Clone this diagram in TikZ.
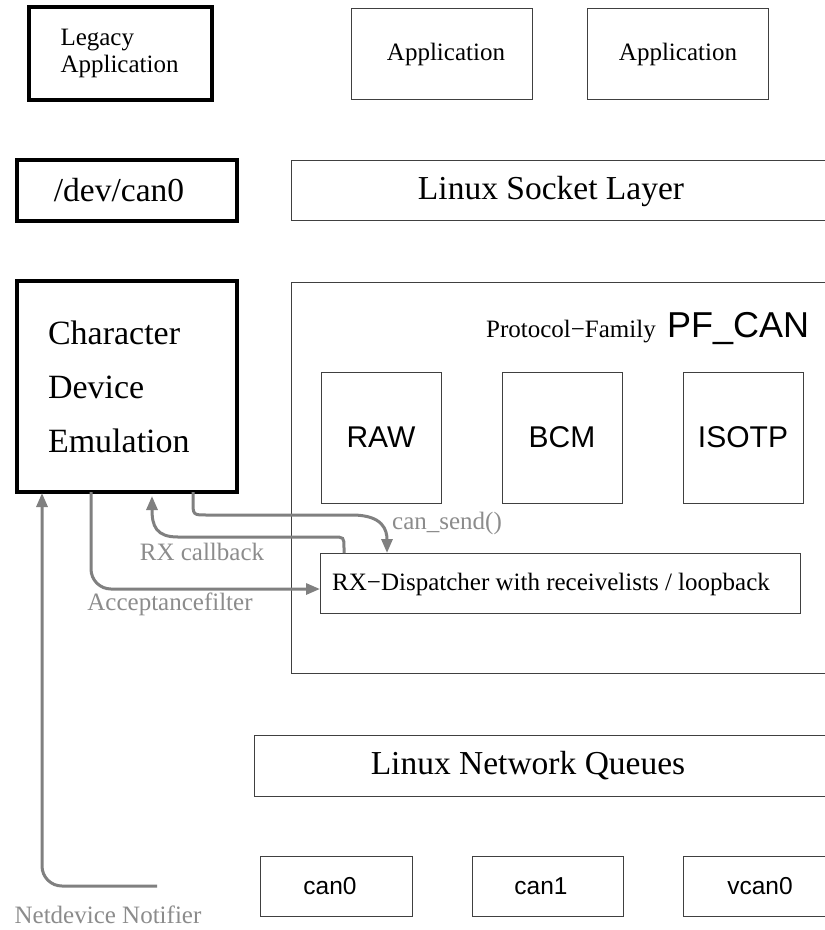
\documentclass[tikz,border=0pt]{standalone}
\usepackage{fontspec}
\setmainfont{Liberation Serif}
\newfontfamily\helv{Liberation Sans}
\usetikzlibrary{arrows.meta,calc}

\begin{document}
\begin{tikzpicture}[x=1pt,y=-1pt,
  thickbox/.style={draw=black, line width=3.2pt, inner sep=0pt, outer sep=0pt},
  thinbox/.style={draw=black!75, line width=1pt, inner sep=0pt, outer sep=0pt},
  flow/.style={draw=black!50, line width=3pt, -{Triangle[length=14pt,width=11pt]}},
  flowlabel/.style={text=black!45, font=\fontsize{25}{27}\selectfont, inner sep=0pt},
  serifmid/.style={font=\fontsize{25}{27}\selectfont},
  seriflarge/.style={font=\fontsize{33.5}{36}\selectfont},
  sansmid/.style={font=\helv\fontsize{24.5}{27}\selectfont},
  sanslarge/.style={font=\helv\fontsize{30}{32}\selectfont},
]
\clip (0,0) rectangle (825,930);
\fill[white] (0,0) rectangle (825,930);

% top row: applications
\node[thickbox, minimum width=183, minimum height=93,
      align=left, text width=120, font=\fontsize{25}{27}\selectfont] (legacy) at (120.5,53.5)
      {Legacy\\Application};
\node[thinbox, minimum width=181, minimum height=91] (app1) at (441.5,53.5) {};
\node[serifmid, inner sep=0pt] (app1txt) at (446,54) {Application};
\node[thinbox, minimum width=181, minimum height=91] (app2) at (677.5,53.5) {};
\node[serifmid, inner sep=0pt] (app2txt) at (678,54) {Application};

% device node and socket layer
\node[thickbox, minimum width=220, minimum height=61] (dev) at (127,190.5) {};
\node[seriflarge, inner sep=0pt] (devtxt) at (119,190) {/dev/can0};
\node[thinbox, minimum width=559, minimum height=60] (sock) at (570.5,190) {};
\node[seriflarge, inner sep=0pt] (socktxt) at (551,191) {Linux Socket Layer};

% character device emulation
\node[thickbox, minimum width=220, minimum height=211,
      align=left, text width=158, font=\fontsize{34}{54}\selectfont] (chardev) at (127,386.5)
      {Character\\Device\\Emulation};

% protocol family PF_CAN
\node[thinbox, minimum width=559, minimum height=391] (pfcan) at (570.5,477.5) {};
\node[serifmid, inner sep=0pt, anchor=base east] (pftxt) at (656,337) {Protocol−Family};
\node[font=\helv\fontsize{36}{38}\selectfont, inner sep=0pt, anchor=base west] (pfname) at (667,337) {PF\_CAN};

\node[thinbox, minimum width=120, minimum height=131, sanslarge] (raw) at (381,437.5) {RAW};
\node[thinbox, minimum width=120, minimum height=131, sanslarge] (bcm) at (562,437.5) {BCM};
\node[thinbox, minimum width=120, minimum height=131, sanslarge] (isotp) at (743,437.5) {ISOTP};

\node[thinbox, minimum width=480, minimum height=60] (rxd) at (560,583) {};
\node[serifmid, inner sep=0pt, anchor=base west] (rxdtxt) at (332,590) {RX−Dispatcher with receivelists / loopback};

% network queues and devices
\node[thinbox, minimum width=596, minimum height=61] (netq) at (552,765.5) {};
\node[seriflarge, inner sep=0pt] (netqtxt) at (528,766) {Linux Network Queues};

\node[thinbox, minimum width=152, minimum height=60] (can0) at (336,886) {};
\node[sansmid, inner sep=0pt] (can0txt) at (330,886) {can0};
\node[thinbox, minimum width=151, minimum height=60] (can1) at (547.5,886) {};
\node[sansmid, inner sep=0pt] (can1txt) at (541,886) {can1};
\node[thinbox, minimum width=167, minimum height=60] (vcan0) at (766.5,886) {};
\node[sansmid, inner sep=0pt] (vcan0txt) at (760,886) {vcan0};

% connectors
\coordinate (ndstart) at (157,886);
\coordinate (ndend) at ($(chardev.south west)+(25,1)$);
\draw[flow, rounded corners=20pt] (ndstart) -| (ndend);

\coordinate (afstart) at ($(chardev.south west)+(74,0)$);
\coordinate (afend) at ($(rxd.west)+(0,6)$);
\draw[flow, rounded corners=20pt] (afstart) |- (afend);

\coordinate (rxstart) at ($(rxd.north west)+(24,0)$);
\coordinate (rxend) at ($(chardev.south west)+(135,4)$);
\draw[flow] (rxstart) -- (344,548) .. controls (344,537) .. (333,537) -- (178,537)
  .. controls (156,537) and (152,526) .. (rxend);

\coordinate (csstart) at ($(chardev.south west)+(176,0)$);
\coordinate (csend) at ($(rxd.north west)+(67,0)$);
\draw[flow] (csstart) -- (193,501) .. controls (193,515) .. (207,515) -- (352,515)
  .. controls (383,515) and (387,530) .. (csend);

% connector labels
\node[flowlabel] (ndlbl) at (108,915) {Netdevice Notifier};
\node[flowlabel] (aflbl) at (170,604) {Acceptancefilter};
\node[flowlabel] (rxlbl) at (202,552) {RX callback};
\node[flowlabel] (cslbl) at (447,523) {can\_send()};
\end{tikzpicture}
\end{document}
